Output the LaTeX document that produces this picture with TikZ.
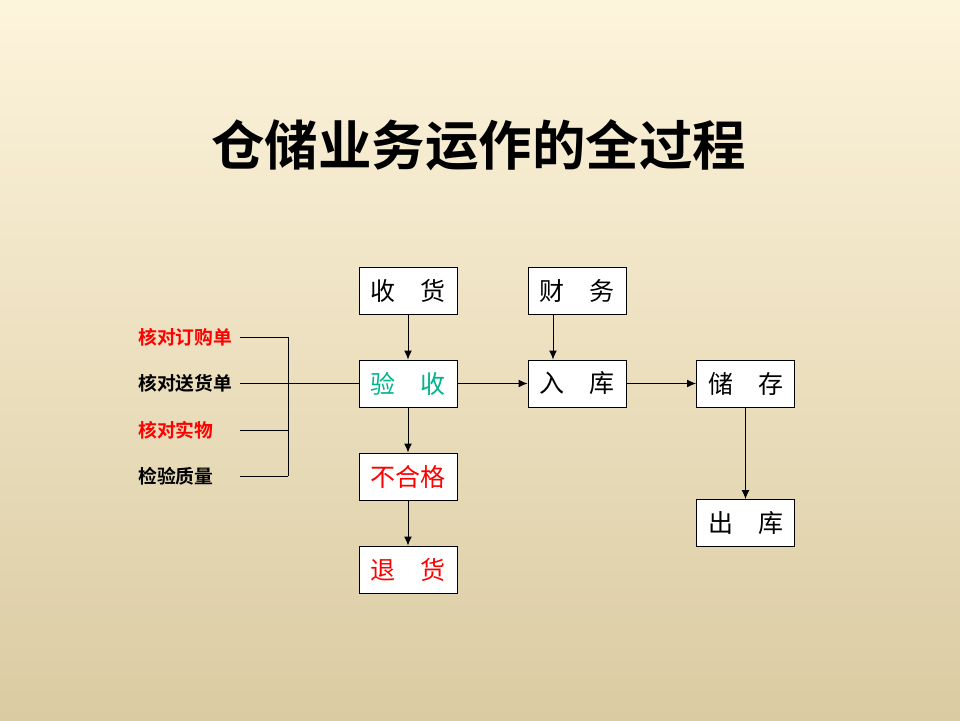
\documentclass[tikz,border=0pt]{standalone}
\usepackage{fontspec}
\newfontfamily\cjk[BoldFont={Noto Sans CJK SC Bold}]{Noto Sans CJK SC}
\usetikzlibrary{arrows.meta,calc}
\definecolor{bgtop}{RGB}{253,244,220}
\definecolor{bgbot}{RGB}{218,203,162}
\definecolor{tealc}{RGB}{0,180,140}
\begin{document}
\begin{tikzpicture}[x=1pt,y=-1pt,
  box/.style={draw=black,line width=1pt,fill=white,minimum width=98pt,minimum height=47pt,inner sep=0pt,font=\cjk\fontsize{25}{28}\selectfont},
  lab/.style={anchor=west,inner sep=0pt,font=\cjk\bfseries\fontsize{18.8}{22}\selectfont},
  ln/.style={line width=1pt},
  arr/.style={line width=1pt,-{Latex[length=9pt,width=8pt]}}]
\shade[top color=bgtop,bottom color=bgbot] (0,0) rectangle (960,720);
\useasboundingbox (0,0) rectangle (960,720);
\node[font=\cjk\bfseries\fontsize{53.5}{60}\selectfont,inner sep=0pt] (title) at (478.5,145) {仓储业务运作的全过程};

\node[box] (sh) at (408,290.5) {收\hspace{1em}货};
\node[box] (cw) at (577,290.5) {财\hspace{1em}务};
\node[box,text=tealc] (ys) at (408,383.5) {验\hspace{1em}收};
\node[box] (rk) at (577,383.5) {入\hspace{1em}库};
\node[box] (cc) at (745.5,383.5) {储\hspace{1em}存};
\node[box,text=red] (bhg) at (408,476.5) {不合格};
\node[box,text=red] (th) at (408,569.5) {退\hspace{1em}货};
\node[box] (ck) at (745.5,523) {出\hspace{1em}库};

\node[lab,text=red] (a1) at (138,337) {核对订购单};
\node[lab] (a2) at (138,383) {核对送货单};
\node[lab,text=red] (a3) at (138,430) {核对实物};
\node[lab] (a4) at (138,476) {检验质量};

\coordinate (s1) at (240,337);
\coordinate (s2) at (240,383.5);
\coordinate (s3) at (240,430);
\coordinate (s4) at (240,476);
\coordinate (j1) at (288,337);
\coordinate (j3) at (288,430);
\coordinate (j4) at (288,476);

\draw[ln] (s1) -- (j1);
\draw[ln] (s3) -- (j3);
\draw[ln] (s4) -- (j4);
\draw[ln] (j1) -- (j4);
\draw[ln] (s2) -- (ys.west);

\draw[arr] (sh.south) -- (ys.north);
\draw[arr] ([xshift=-24pt]cw.south) -- ([xshift=-24pt]rk.north);
\draw[arr] (ys.east) -- (rk.west);
\draw[arr] (rk.east) -- (cc.west);
\draw[arr] (cc.south) -- (ck.north);
\draw[arr] (ys.south) -- (bhg.north);
\draw[arr] (bhg.south) -- (th.north);
\end{tikzpicture}
\end{document}
